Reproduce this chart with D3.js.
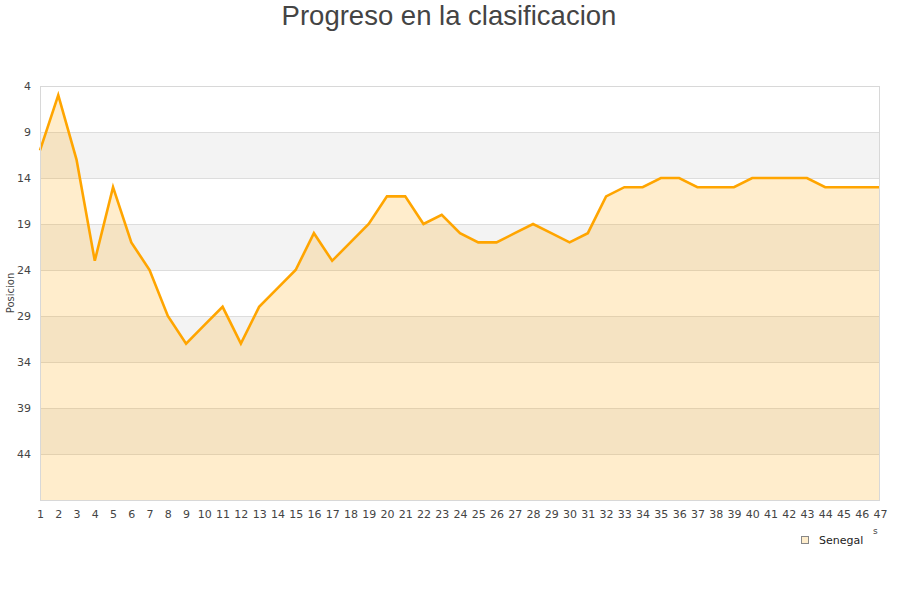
<!DOCTYPE html>
<html><head><meta charset="utf-8">
<script src="https://cdn.jsdelivr.net/npm/d3@7"></script>
<style>body{margin:0;background:#fff}svg{display:block}</style>
</head><body>
<svg id="c" width="900" height="600"></svg>
<script>
const jornadas = d3.range(1, 48);
const posiciones = [11,5,12,23,15,21,24,29,32,30,28,32,28,26,24,20,23,21,19,16,16,19,18,20,21,21,20,19,20,21,20,16,15,15,14,14,15,15,15,14,14,14,14,15,15,15,15];
const yTicks = [4,9,14,19,24,29,34,39,44];
const seriesName = "Senegal";
const titleText = "Progreso en la clasificacion";
const yTitle = "Posicion";

const svg = d3.select("#c");
const L = 40, R = 880, T = 86, B = 500;
const x = d3.scaleLinear().domain([1, 47]).range([L, R]);
const y = d3.scaleLinear().domain([4, 49]).range([T, B]);
const font = "'DejaVu Sans', Verdana, sans-serif";

// bands
const bandEdges = [4,9,14,19,24,29,34,39,44,49];
for (let i = 0; i < bandEdges.length - 1; i++) {
  svg.append("rect").attr("x", L).attr("width", R - L)
    .attr("y", y(bandEdges[i])).attr("height", y(bandEdges[i+1]) - y(bandEdges[i]))
    .attr("fill", i % 2 ? "#f3f3f3" : "#ffffff");
}
// grid
svg.append("g").selectAll("line").data(yTicks.slice(1)).join("line")
  .attr("x1", L).attr("x2", R).attr("y1", d => y(d)).attr("y2", d => y(d))
  .attr("stroke", "#dddddd").attr("stroke-width", 1).attr("shape-rendering", "crispEdges");

const data = jornadas.map((j, i) => [j, posiciones[i]]);
svg.append("path").datum(data)
  .attr("d", d3.area().x(d => x(d[0])).y0(B).y1(d => y(d[1])))
  .attr("fill", "#ffa500").attr("fill-opacity", 0.2);
svg.append("path").datum(data)
  .attr("d", d3.line().x(d => x(d[0])).y(d => y(d[1])))
  .attr("fill", "none").attr("stroke", "#ffa500").attr("stroke-width", 2.6)
  .attr("stroke-linejoin", "miter");

// frame
svg.append("rect").attr("x", L + 0.5).attr("y", T + 0.5).attr("width", R - L - 1).attr("height", B - T)
  .attr("fill", "none").attr("stroke", "#d8d8d8").attr("stroke-width", 1);

// y axis labels
const yAxis = d3.axisLeft(y).tickValues(yTicks).tickSize(0).tickPadding(9);
const gy = svg.append("g").attr("transform", `translate(${L},0)`).call(yAxis);
gy.select(".domain").remove();
gy.selectAll("text").attr("font-family", font).attr("font-size", 11).attr("fill", "#444");

const xAxis = d3.axisBottom(x).tickValues(jornadas).tickSize(0).tickPadding(10).tickFormat(d3.format("d"));
const gx = svg.append("g").attr("transform", `translate(0,${B})`).call(xAxis);
gx.select(".domain").remove();
gx.selectAll("text").attr("font-family", font).attr("font-size", 11).attr("fill", "#444");

// title
svg.append("text").attr("x", 449).attr("y", 25).attr("text-anchor", "middle")
  .attr("font-family", "'Liberation Sans', Arial, sans-serif").attr("font-size", 27.5)
  .attr("fill", "#444").text(titleText);

svg.append("text").attr("transform", "translate(14,293) rotate(-90)").attr("text-anchor", "middle")
  .attr("font-family", font).attr("font-size", 10).attr("fill", "#444").text(yTitle);

// partial axis title remnant
svg.append("text").attr("x", 873).attr("y", 534).attr("font-family", font).attr("font-size", 9)
  .attr("fill", "#444").text("s");

// legend
svg.append("rect").attr("x", 801.5).attr("y", 536.5).attr("width", 7).attr("height", 7)
  .attr("fill", "#feedcc").attr("stroke", "#888").attr("stroke-width", 1);
svg.append("text").attr("x", 819).attr("y", 544).attr("font-family", font).attr("font-size", 11)
  .attr("fill", "#222").text(seriesName);
</script>
</body></html>
